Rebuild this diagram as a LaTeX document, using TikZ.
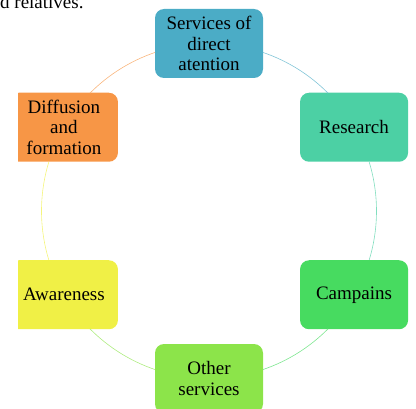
\documentclass[tikz,border=0pt]{standalone}
\usepackage{fontspec}
\setmainfont{Liberation Serif}
\usetikzlibrary{calc}
\definecolor{cS}{RGB}{75,172,198}
\definecolor{cR}{RGB}{76,208,164}
\definecolor{cC}{RGB}{71,219,96}
\definecolor{cO}{RGB}{140,228,74}
\definecolor{cA}{RGB}{240,240,70}
\definecolor{cD}{RGB}{247,150,70}
\tikzset{
  cyclebox/.style={draw=none, rounded corners=9pt, minimum width=108pt, minimum height=69pt,
    align=center, inner sep=0pt, font=\fontsize{19}{20.5}\selectfont, text=black},
  cyclearc/.style={line width=0.6pt}
}
\begin{document}
\begin{tikzpicture}[x=1pt,y=1pt]
\clip (0,0) rectangle (416,408);
\node[anchor=base west, inner sep=0pt, font=\fontsize{19}{20.5}\selectfont] (prev) at (0,399) {d relatives.};
\coordinate (c) at (209,197);
\begin{scope}
\clip (18,0) rectangle (416,408);
\node[cyclebox, fill=cS] (S) at ($(c)+(90:167.5)$) {Services of\\direct\\atention};
\node[cyclebox, fill=cR] (R) at ($(c)+(30:167.5)$) {Research};
\node[cyclebox, fill=cC] (C) at ($(c)+(-30:167.5)$) {Campains};
\node[cyclebox, fill=cO] (O) at ($(c)+(-90:167.5)$) {Other\\services};
\node[cyclebox, fill=cA] (A) at ($(c)+(-150:167.5)$) {Awareness};
\node[cyclebox, fill=cD] (D) at ($(c)+(150:167.5)$) {Diffusion\\and\\formation};
\draw[cyclearc, cS!70] ($(c)+(71.2:167.5)$) arc[start angle=71.2, end angle=44.7, radius=167.5];
\draw[cyclearc, cR!70] ($(c)+(17:167.5)$) arc[start angle=17, end angle=-17, radius=167.5];
\draw[cyclearc, cC!70] ($(c)+(-44.7:167.5)$) arc[start angle=-44.7, end angle=-71.2, radius=167.5];
\draw[cyclearc, cO!70] ($(c)+(-108.8:167.5)$) arc[start angle=-108.8, end angle=-135.3, radius=167.5];
\draw[cyclearc, cA!70] ($(c)+(-163:167.5)$) arc[start angle=-163, end angle=-197, radius=167.5];
\draw[cyclearc, cD!70] ($(c)+(135.3:167.5)$) arc[start angle=135.3, end angle=108.8, radius=167.5];
\end{scope}
\end{tikzpicture}
\end{document}
